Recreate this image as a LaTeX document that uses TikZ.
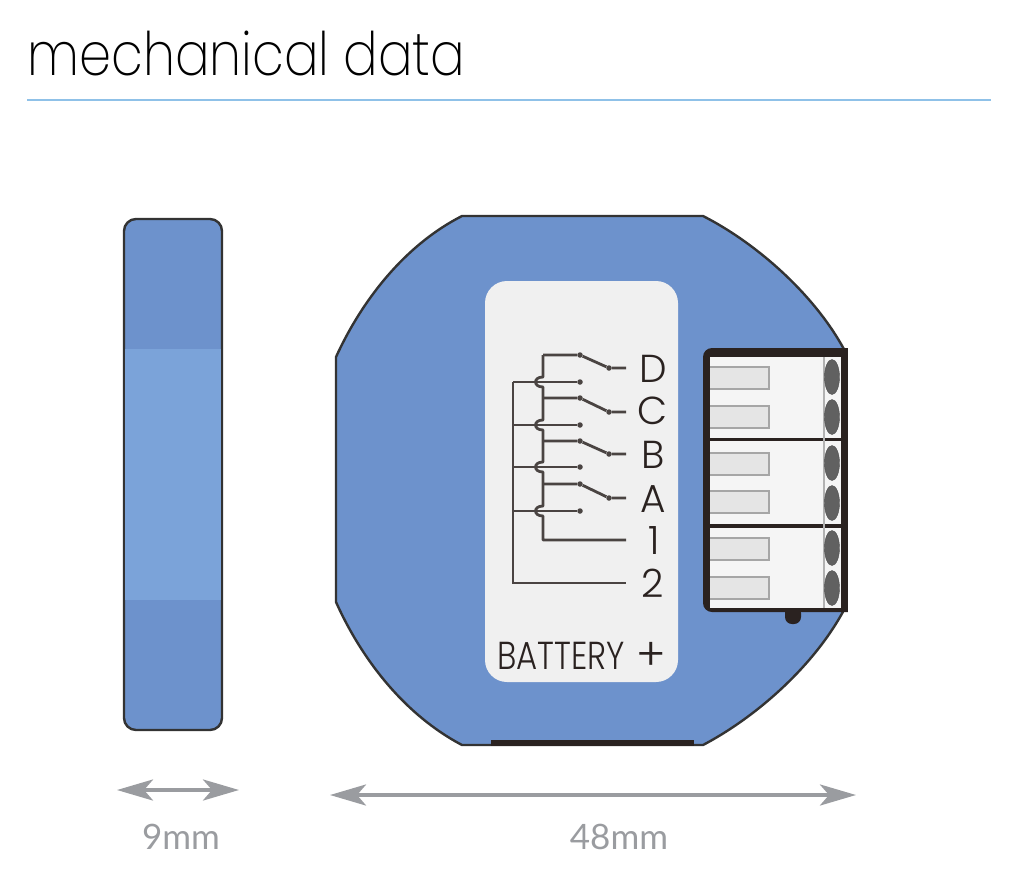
\documentclass[tikz,border=0pt]{standalone}
\usepackage{fontspec}
\usetikzlibrary{arrows.meta,shapes.geometric}
\newfontfamily\titlefont{Poppins ExtraLight}
\newfontfamily\pinfont{Poppins Light}
\newfontfamily\dimfont{Lato}
\definecolor{bodyblue}{HTML}{6D92CC}
\definecolor{bandblue}{HTML}{7BA3D9}
\definecolor{rulecol}{HTML}{8FC1E8}
\definecolor{wirecol}{HTML}{4A4442}
\definecolor{dimcol}{HTML}{9A9CA0}
\definecolor{blockcol}{HTML}{2A2220}
\tikzstyle{housing}=[draw=black!80,line width=2.4pt,fill=bodyblue]
\tikzstyle{wire}=[draw=wirecol,line width=2.8pt]
\tikzstyle{contact}=[circle,fill=wirecol,minimum size=5.5pt,inner sep=0pt]
\tikzstyle{pinlabel}=[font=\pinfont\fontsize{39}{39}\selectfont,text=blockcol,inner sep=0pt]
\tikzstyle{dimarrow}=[draw=dimcol,line width=4pt,{Stealth[length=36pt,width=21pt,inset=9pt]}-{Stealth[length=36pt,width=21pt,inset=9pt]}]
\tikzstyle{dimlabel}=[font=\dimfont\fontsize{35}{35}\selectfont,text=dimcol,inner sep=0pt]
\tikzstyle{slot}=[draw=black!35,line width=1.4pt,fill=black!10]
\tikzstyle{screw}=[ellipse,fill=black!62,draw=black!70,minimum width=15pt,minimum height=35pt,inner sep=0pt]
\begin{document}
\begin{tikzpicture}[x=1pt,y=-1pt]
    \useasboundingbox (0,0) rectangle (1017,871);
    \node[font=\titlefont\fontsize{60}{60}\selectfont,text=black,anchor=base west,inner sep=0pt,xscale=0.855] (title) at (27,75) {mechanical data};
    \coordinate (ruleL) at (27,100);
    \coordinate (ruleR) at (991,100);
    \draw[rulecol,line width=1.8pt] (ruleL) -- (ruleR);

    \path[housing,rounded corners=12pt] (124,219) rectangle (222,730);
    \fill[bandblue] (125.2,349) rectangle (220.8,600);

    \path[housing] (462,216) -- (703,216) .. controls (760,245) and (820,300) .. (848,357)
        -- (848,602) .. controls (820,660) and (760,715) .. (703,745)
        -- (462,745) .. controls (405,715) and (362,660) .. (336,602)
        -- (336,357) .. controls (362,300) and (405,245) .. (462,216) -- cycle;
    \fill[blockcol] (491,740) rectangle (694,746);

    \fill[black!6,rounded corners=22pt] (485,281) rectangle (678,682);

    \foreach \name/\y/\yy/\ty in {D/355/368/369, C/398/412/411, B/441/454/455, A/484/498/499} {
        \node[contact] (in\name) at (580,\y) {};
        \node[contact] (out\name) at (609,\yy) {};
        \coordinate (bus\name) at (543,\y);
        \coordinate (end\name) at (626,\yy);
        \node[pinlabel] (label\name) at (653,\ty) {\name};
        \draw[wire] (bus\name) -- (in\name) -- (out\name) -- (end\name);
    }
    \foreach \name/\y in {p/382, q/425, r/467, s/511} {
        \node[contact] (nc\name) at (580,\y) {};
        \coordinate (left\name) at (513,\y);
        \draw[wire] (left\name) -- (nc\name);
    }
    \coordinate (busend) at (543,540);
    \coordinate (endone) at (626,540);
    \coordinate (lefttop) at (513,382);
    \coordinate (leftend) at (513,583);
    \coordinate (endtwo) at (626,583);
    \draw[wire,line join=round] (busD) foreach \y in {382,425,467,511} {
        -- (543,\y-5) .. controls (533,\y-5) and (533,\y+5) .. (543,\y+5)
    } -- (busend) -- (endone);
    \draw[wire] (lefttop) -- (leftend) -- (endtwo);
    \node[pinlabel] (labelone) at (654,541) {1};
    \node[pinlabel] (labeltwo) at (653,583) {2};
    \node[pinlabel,anchor=base west,xscale=0.83] (battery) at (497,669) {BATTERY};
    \node[pinlabel,font=\pinfont\fontsize{45}{45}\selectfont] (plus) at (651,656) {+};

    \fill[blockcol,rounded corners=7pt] (785,606) rectangle (801,624);
    \fill[blockcol,rounded corners=9pt] (703,348) rectangle (860,612);
    \fill[blockcol] (840,350) rectangle (848,610);
    \fill[white] (848,340) -- (862,340) -- (862,620) -- (848,620) -- cycle;
    \fill[black!4] (710,357) rectangle (841,437.5);
    \fill[black!4] (710,441) rectangle (841,524);
    \fill[black!4] (710,527.5) rectangle (841,608);
    \draw[black!30,line width=1.2pt] (824,357) -- (824,608);
    \foreach \top in {367,406,453,491,538,577}
        \path[slot] (706,\top) rectangle (769,\top+22);
    \fill[blockcol] (703,358) rectangle (710,602);
    \foreach \pos/\name in {{(832,377)/a}, {(832,417)/b}, {(832,463)/c}, {(832,503)/d}, {(832,548)/e}, {(832,588)/f}}
        \node[screw] (screw\name) at \pos {};

    \coordinate (narrowL) at (117,790);
    \coordinate (narrowR) at (239,790);
    \coordinate (wideL) at (330,795);
    \coordinate (wideR) at (856,795);
    \path[dimarrow] (narrowL) -- (narrowR);
    \path[dimarrow] (wideL) -- (wideR);
    \node[dimlabel] (narrowtext) at (181,837) {9mm};
    \node[dimlabel] (widetext) at (619,837) {48mm};
\end{tikzpicture}
\end{document}
